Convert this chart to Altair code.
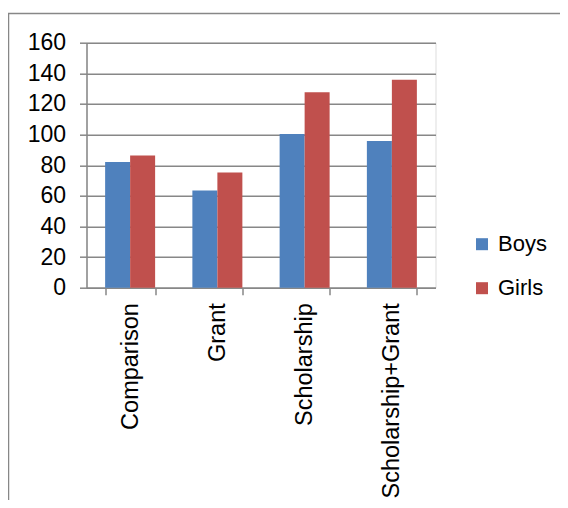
import altair as alt
import pandas as pd

categories = ["Comparison", "Grant", "Scholarship", "Scholarship+Grant"]
series = ["Boys", "Girls"]
boys = [82.1, 63.4, 100.4, 95.8]
girls = [86.3, 75.2, 127.7, 135.8]
colors = ["#4F81BD", "#C0504D"]
y_ticks = [0, 20, 40, 60, 80, 100, 120, 140, 160]

rows = []
for c, b, g in zip(categories, boys, girls):
    rows.append({"Category": c, "Series": "Boys", "Value": b})
    rows.append({"Category": c, "Series": "Girls", "Value": g})
df = pd.DataFrame(rows)

W, H = 349, 245
GRAY = "#878787"
FONT = "Liberation Sans"

bars = alt.Chart(df).mark_bar().encode(
    x=alt.X(
        "Category:N",
        sort=categories,
        scale=alt.Scale(paddingInner=0.427, paddingOuter=0.2135),
        axis=alt.Axis(
            title=None, labelAngle=-90, labelAlign="right", labelBaseline="middle",
            tickBand="extent", grid=False, ticks=True, tickSize=7, tickColor=GRAY,
            domainColor=GRAY, domainWidth=1.5, tickWidth=1.5, labelPadding=8,
            labelFontSize=23.5, labelFont=FONT, labelColor="black", labelLimit=400,
        ),
    ),
    xOffset=alt.XOffset("Series:N", sort=series,
                        scale=alt.Scale(paddingInner=0, paddingOuter=0)),
    y=alt.Y(
        "Value:Q",
        scale=alt.Scale(domain=[0, 160], nice=False),
        axis=alt.Axis(
            title=None, values=y_ticks, grid=True, gridColor=GRAY, gridWidth=1.5,
            tickSize=7, tickColor=GRAY, tickWidth=1.5, domainColor=GRAY, domainWidth=1.5,
            labelPadding=14, labelFontSize=23, labelFont=FONT, labelColor="black",
        ),
    ),
    color=alt.Color(
        "Series:N",
        sort=series,
        scale=alt.Scale(domain=series, range=colors),
        legend=alt.Legend(
            title=None, orient="none", legendX=384.5, legendY=190.5,
            symbolType="square", symbolSize=144, symbolStrokeWidth=0,
            symbolOpacity=1, labelFontSize=22, labelFont=FONT, labelColor="black",
            rowPadding=22, labelOffset=5, padding=0,
        ),
    ),
)

frame = alt.Chart(alt.Data(values=[{"f": 1}])).mark_rect(
    fill="transparent", stroke=GRAY, strokeWidth=1.5
).encode(
    x=alt.value(-78), x2=alt.value(700),
    y=alt.value(-29.2), y2=alt.value(700),
)

chart = alt.layer(frame, bars).properties(
    width=W, height=H,
    autosize=alt.AutoSizeParams(type="none"),
    padding={"left": 78.5, "top": 34.7, "right": 124.5, "bottom": 212.3},
).configure_view(strokeWidth=0).configure(background="white")

chart.save("out.html", embed_options={"renderer": "svg", "actions": False})
